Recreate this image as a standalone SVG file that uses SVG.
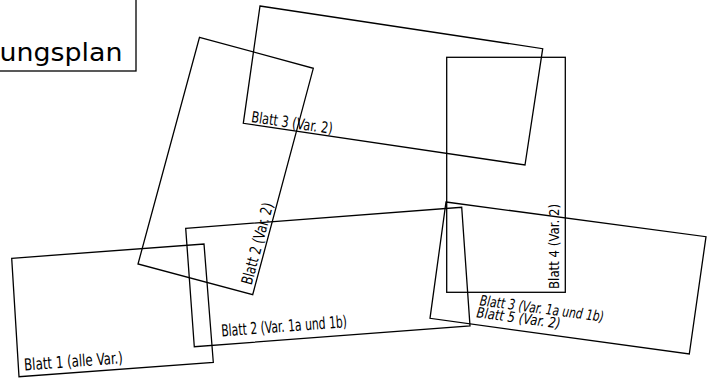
<svg xmlns="http://www.w3.org/2000/svg" width="710" height="383" viewBox="0 0 710 383">
<style>
.sheet{fill:none;stroke:#000;stroke-width:1.3;stroke-linejoin:miter}
.lbl{font-family:"DejaVu Sans Condensed","DejaVu Sans","Liberation Sans",sans-serif;font-size:14.5px;fill:#000}
.big{font-size:16.5px}
.mid{font-size:15.5px}
.it{font-style:italic}
.title{font-family:"DejaVu Sans","Liberation Sans",sans-serif;font-size:25.5px;fill:#000}
</style>
<rect width="710" height="383" fill="#fff"/>
<g id="title">
<rect x="-10" y="-10" width="146" height="81" class="sheet"/>
<text class="title" x="122.5" y="61" text-anchor="end" textLength="123" lengthAdjust="spacingAndGlyphs">ungsplan</text>
</g>
<g id="blatt1">
<polygon class="sheet" points="11.7,258.3 204,244 213.3,362.3 19,376.7"/>
<text class="lbl big" transform="translate(24.5,370.5) rotate(-4.2)" textLength="99" lengthAdjust="spacingAndGlyphs">Blatt 1 (alle Var.)</text>
</g>
<g id="blatt2-var1">
<polygon class="sheet" points="185.7,228.3 461.7,207.3 470,326 194.3,346.7"/>
<text class="lbl big" transform="translate(221.7,336.5) rotate(-4.3)" textLength="126" lengthAdjust="spacingAndGlyphs">Blatt 2 (Var. 1a und 1b)</text>
</g>
<g id="blatt2-var2">
<polygon class="sheet" points="199.5,37.3 313.3,68.3 252.7,294.7 138,264"/>
<text class="lbl mid" transform="translate(251.6,285.5) rotate(-75)" textLength="84" lengthAdjust="spacingAndGlyphs">Blatt 2 (Var. 2)</text>
</g>
<g id="blatt3-var2">
<polygon class="sheet" points="260,6 542.7,48.7 525,165 243.3,123.3"/>
<text class="lbl mid" transform="translate(250.7,122) rotate(8.4)" textLength="82" lengthAdjust="spacingAndGlyphs">Blatt 3 (Var. 2)</text>
</g>
<g id="blatt4">
<rect class="sheet" x="446.7" y="57.3" width="118.6" height="235"/>
<text class="lbl" transform="translate(558.5,289) rotate(-90)" textLength="85" lengthAdjust="spacingAndGlyphs">Blatt 4 (Var. 2)</text>
</g>
<g id="blatt3-5">
<polygon class="sheet" points="446,202 706,236.7 689.3,354 430,318.3"/>
<text class="lbl it" transform="translate(479.3,305.3) rotate(7.6)" textLength="125" lengthAdjust="spacingAndGlyphs">Blatt 3 (Var. 1a und 1b)</text>
<text class="lbl it" transform="translate(476,317.3) rotate(7.6)" textLength="84.5" lengthAdjust="spacingAndGlyphs">Blatt 5 (Var. 2)</text>
</g>
</svg>
